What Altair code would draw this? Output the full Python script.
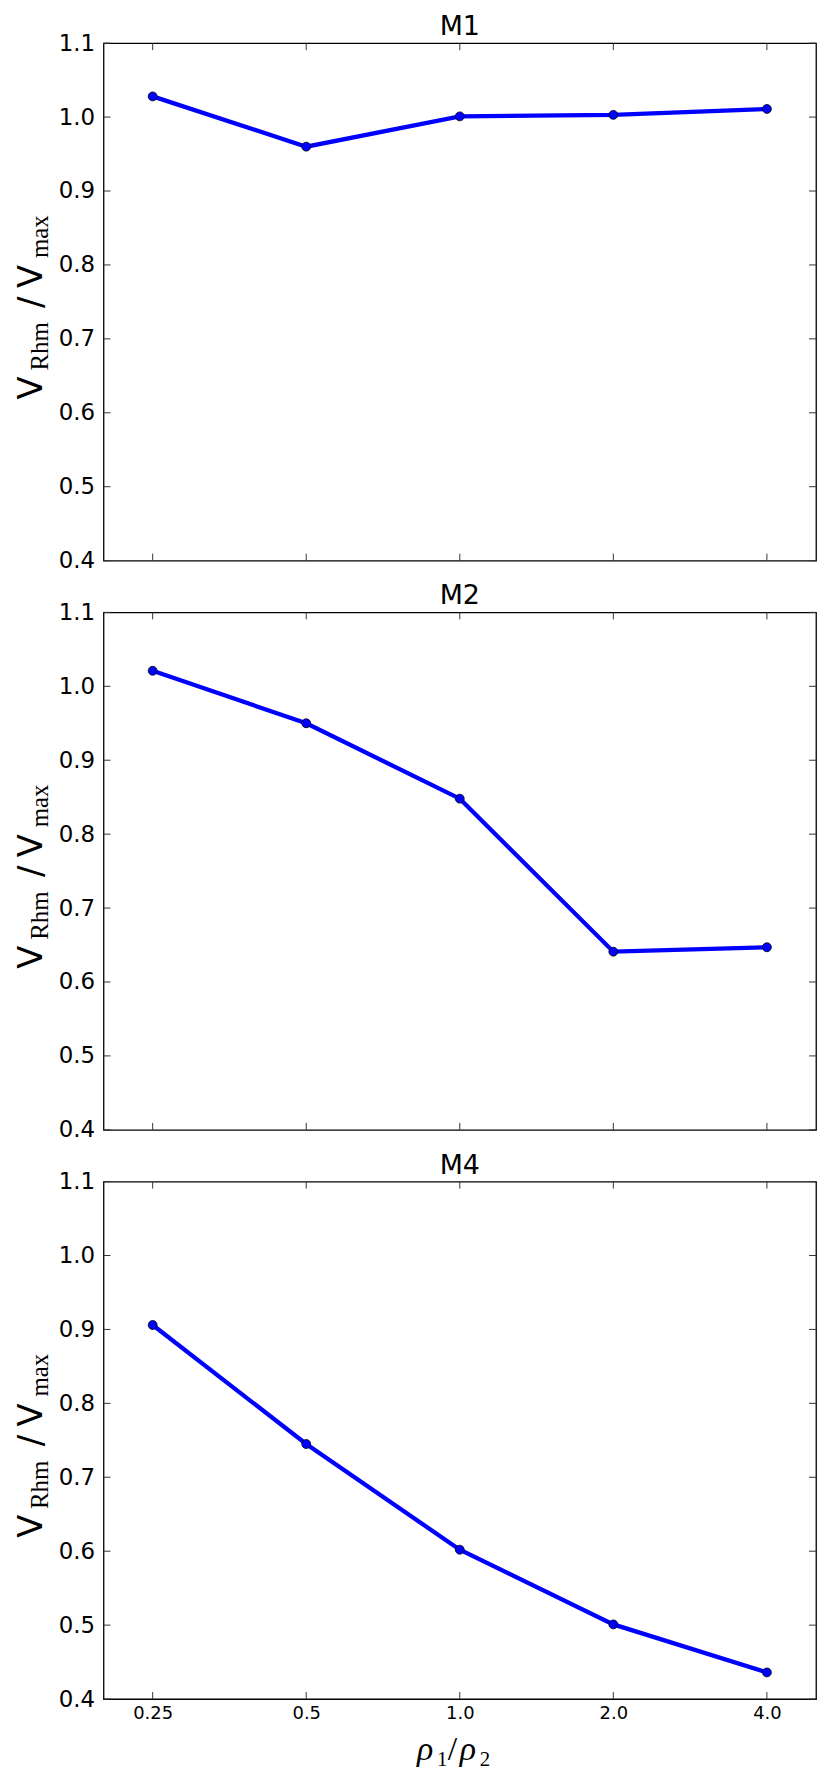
import altair as alt
import pandas as pd

# ---- data ----
ratios = ["0.25", "0.5", "1.0", "2.0", "4.0"]
m1_values = [1.028, 0.960, 1.001, 1.003, 1.011]
m2_values = [1.021, 0.950, 0.848, 0.641, 0.647]
m4_values = [0.906, 0.745, 0.602, 0.501, 0.436]
panel_titles = ["M1", "M2", "M4"]
y_ticks = [0.4, 0.5, 0.6, 0.7, 0.8, 0.9, 1.0, 1.1]

W, H = 716, 520
BLUE = "#0000ff"
SANS = "DejaVu Sans"
SERIF = "Liberation Serif"


def txt(s, font, size, x, y, angle=0, italic=False, align="left"):
    return alt.Chart(alt.Data(values=[{}])).mark_text(
        text=s, font=font, fontSize=size, angle=angle, align=align,
        baseline="alphabetic", color="black",
        fontStyle="italic" if italic else "normal",
    ).encode(x=alt.value(x), y=alt.value(y))


def panel(title, values, show_x):
    df = pd.DataFrame({"ratio": ratios, "v": values})
    xscale = alt.Scale(type="point", padding=0.32)
    yscale = alt.Scale(domain=[0.4, 1.1], nice=False, zero=False)
    if show_x:
        xaxis = alt.Axis(title=None, labelAngle=0, ticks=False, domain=False, grid=False,
                         labelFontSize=18, labelFont=SANS, labelColor="black", labelPadding=6)
    else:
        xaxis = None
    yaxis = alt.Axis(title=None, values=y_ticks, format=".1f", ticks=False, domain=False,
                     grid=False, labelFontSize=23, labelFont=SANS, labelColor="black",
                     labelPadding=9)
    x = alt.X("ratio:O", sort=ratios, scale=xscale, axis=xaxis)
    y = alt.Y("v:Q", scale=yscale, axis=yaxis)
    base = alt.Chart(df)
    line = base.mark_line(color=BLUE, strokeWidth=4.3).encode(x=x, y=y)
    pts = base.mark_circle(color=BLUE, stroke="black", strokeWidth=0.8, size=80, opacity=1).encode(x=x, y=y)

    ydf = alt.Chart(pd.DataFrame({"v": y_ticks}))
    ytick_l = ydf.mark_rule(color="#333", strokeWidth=1).encode(y=y, x=alt.value(0), x2=alt.value(7))
    ytick_r = ydf.mark_rule(color="#333", strokeWidth=1).encode(y=y, x=alt.value(W - 7), x2=alt.value(W))

    xdf = alt.Chart(pd.DataFrame({"ratio": ratios}))
    xtick_b = xdf.mark_rule(color="#333", strokeWidth=1).encode(x=x, y=alt.value(H - 7), y2=alt.value(H))
    xtick_t = xdf.mark_rule(color="#333", strokeWidth=1).encode(x=x, y=alt.value(0), y2=alt.value(7))

    # panel title
    ttl = txt(title, SANS, 27, W / 2, -8, align="center")

    # y-axis label: V_Rhm / V_max
    ylab = [
        txt("V", SANS, 34, -62, 358, angle=270),
        txt("Rhm", SERIF, 25, -55.5, 329, angle=270),
        txt("/", SANS, 34, -62, 266, angle=270),
        txt("V", SANS, 34, -62, 246, angle=270),
        txt("max", SERIF, 25, -55.5, 216, angle=270),
    ]
    layers = [line, pts, ytick_l, ytick_r, xtick_b, xtick_t, ttl] + ylab
    if show_x:
        layers += [
            txt("ρ", SERIF, 34, 315, 581, italic=True),
            txt("1", SERIF, 21, 335, 587),
            txt("/", SERIF, 34, 346, 581),
            txt("ρ", SERIF, 34, 358, 581, italic=True),
            txt("2", SERIF, 21, 378, 587),
        ]
    return alt.layer(*layers).properties(width=W, height=H)


chart = alt.vconcat(
    panel(panel_titles[0], m1_values, False),
    panel(panel_titles[1], m2_values, False),
    panel(panel_titles[2], m4_values, True),
    spacing=52,
    bounds="flush",
).properties(
    padding={"left": 6, "top": 0, "right": 5, "bottom": 5},
    background="white",
).configure_view(
    stroke="black", strokeWidth=1.3
)

chart.save("out.html", embed_options={"renderer": "svg", "actions": False})
